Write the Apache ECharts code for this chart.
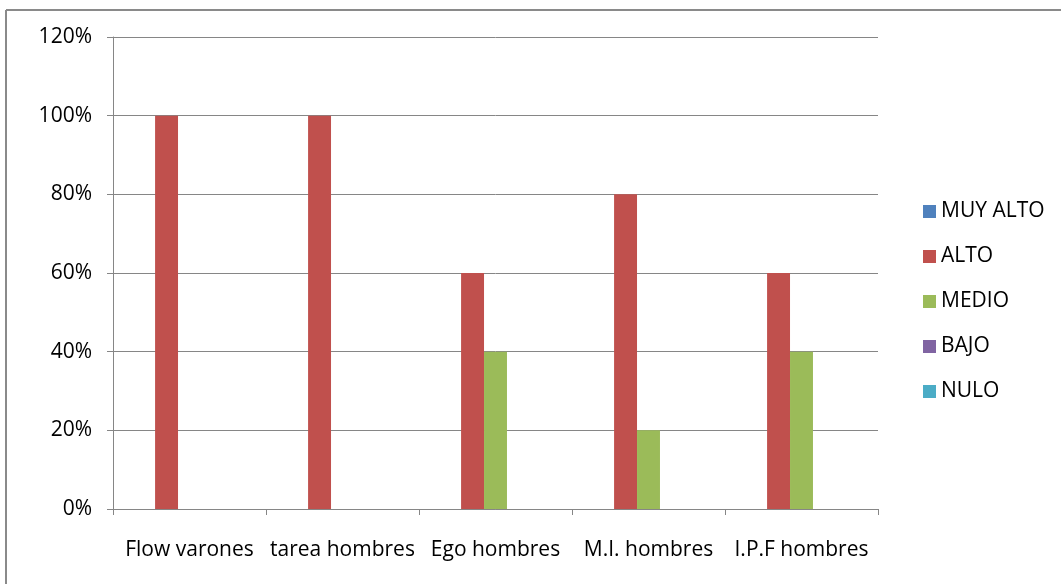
<!DOCTYPE html>
<html><head><meta charset="utf-8">
<script src="https://cdn.jsdelivr.net/npm/echarts@6/dist/echarts.min.js"></script>
<style>html,body{margin:0;padding:0;background:#fff}#c{width:1061px;height:584px}</style>
</head><body><div id="c"></div>
<script>
const categories = ['Flow varones', 'tarea hombres', 'Ego hombres', 'M.I. hombres', 'I.P.F hombres'];
const seriesNames = ['MUY ALTO', 'ALTO', 'MEDIO', 'BAJO', 'NULO'];
const muyAlto = [0, 0, 0, 0, 0];
const alto = [100, 100, 60, 80, 60];
const medio = [0, 0, 40, 20, 40];
const bajo = [0, 0, 0, 0, 0];
const nulo = [0, 0, 0, 0, 0];
const colors = ['#4f81bd', '#c0504d', '#9bbb59', '#8064a2', '#4bacc6'];
const values = [muyAlto, alto, medio, bajo, nulo];

const font = '"Open Sans", Calibri, sans-serif';
const chart = echarts.init(document.getElementById('c'));
chart.setOption({
  animation: false,
  color: colors,
  graphic: [
    {type:'line', shape:{x1:6, y1:10, x2:1061, y2:10}, style:{stroke:'#8a8a8a', lineWidth:2}, silent:true},
    {type:'line', shape:{x1:6, y1:10, x2:6, y2:584}, style:{stroke:'#8a8a8a', lineWidth:2}, silent:true}
  ],
  grid: {left:113, right:183, top:37, bottom:75},
  legend: {
    orient:'vertical', left:918, top:192, itemGap:16, itemWidth:13, itemHeight:13,
    icon:'rect',
    textStyle:{fontFamily:font, fontSize:21, color:'#000', lineHeight:29},
    data: seriesNames
  },
  xAxis: {
    type:'category', data:categories,
    axisLine:{lineStyle:{color:'#868686'}},
    axisTick:{show:true, length:6, lineStyle:{color:'#868686'}},
    axisLabel:{color:'#000', fontFamily:font, fontSize:21, margin:31, interval:0}
  },
  yAxis: {
    type:'value', min:0, max:120, interval:20,
    axisLine:{show:true, lineStyle:{color:'#868686'}},
    axisTick:{show:true, length:6, lineStyle:{color:'#868686'}},
    splitLine:{lineStyle:{color:'#868686'}},
    axisLabel:{color:'#000', fontFamily:font, fontSize:21, margin:21, formatter:'{value}%'}
  },
  series: seriesNames.map((n,i)=>({
    name:n, type:'bar', data:values[i], barGap:'0%', barCategoryGap:'25%'
  }))
});
</script></body></html>
